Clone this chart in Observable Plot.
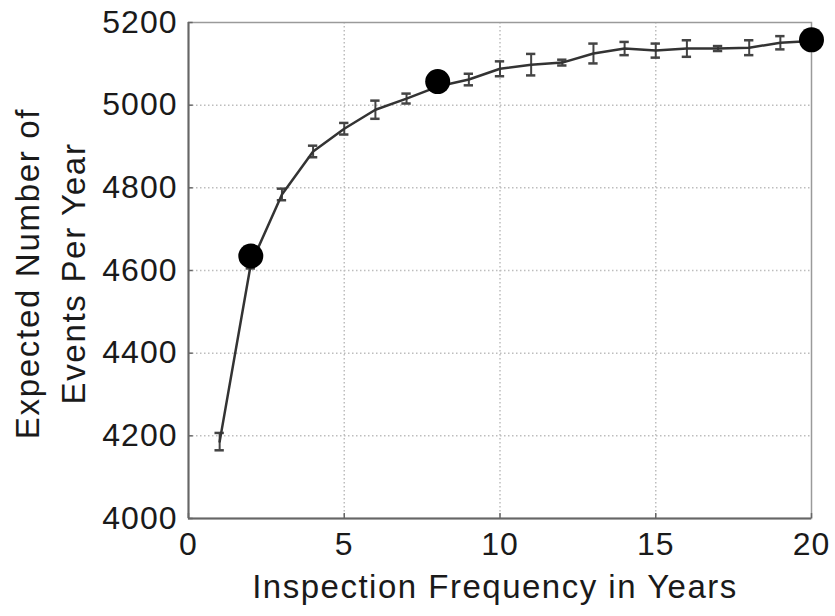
<!DOCTYPE html>
<html>
<head>
<meta charset="utf-8">
<script src="https://cdn.jsdelivr.net/npm/d3@7"></script>
<script src="https://cdn.jsdelivr.net/npm/@observablehq/plot@0.6"></script>
<style>
  html, body { margin: 0; padding: 0; background: #fff; }
  #chart svg text { letter-spacing: 1px; }
</style>
</head>
<body>
<div id="chart"></div>
<script>
// Inspection frequency (years)
const years = [1,2,3,4,5,6,7,8,9,10,11,12,13,14,15,16,17,18,19,20];
// Expected number of events per year (line values)
const events = [4186,4615,4784,4888,4943,4989,5016,5045,5062,5088,5098,5103,5125,5137,5132,5137,5137,5139,5151,5155];
// Error bar half-widths
const errors = [21,10,14,14,14,22,12,8,14,18,26,7,24,16,17,20,6,18,16,8];
// Highlighted points
const highlightYears = [2, 8, 20];
const highlightValues = [4635, 5057, 5158];

const xTicks = [0,5,10,15,20];
const yTicks = [4000,4200,4400,4600,4800,5000,5200];
const xLabel = "Inspection Frequency in Years";
const yLabel = "Expected Number of\nEvents Per Year";

const rows = years.map((x, i) => ({x, y: events[i], lo: events[i] - errors[i], hi: events[i] + errors[i]}));
const highlights = highlightYears.map((x, i) => ({x, y: highlightValues[i]}));
const capHalf = 0.15;

const fontSize = 32;
const plot = Plot.plot({
  width: 835,
  height: 616,
  marginLeft: 188,
  marginRight: 24,
  marginTop: 22,
  marginBottom: 98,
  style: {fontFamily: "'Liberation Sans', Arial, sans-serif", fontSize: fontSize + "px", color: "#1a1a1a", background: "#fff"},
  x: {domain: [0, 20]},
  y: {domain: [4000, 5200]},
  marks: [
    Plot.gridX(xTicks.slice(1, -1), {stroke: "#bdbdbd", strokeOpacity: 1, strokeWidth: 1.5, strokeDasharray: "1.5,2.5"}),
    Plot.gridY(yTicks.slice(1, -1), {stroke: "#bdbdbd", strokeOpacity: 1, strokeWidth: 1.5, strokeDasharray: "1.5,2.5"}),
    Plot.frame({stroke: "#9a9a9a", strokeWidth: 1.5}),
    Plot.ruleX([0], {stroke: "#666", strokeWidth: 2}),
    Plot.ruleY([4000], {stroke: "#666", strokeWidth: 2}),
    // small inward ticks
    Plot.ruleY(yTicks, {x1: 0, x2: 0.15, stroke: "#666", strokeWidth: 1.5}),
    Plot.ruleX(xTicks, {y1: 4000, y2: 4012, stroke: "#666", strokeWidth: 1.5}),
    Plot.axisX(xTicks, {tickSize: 0, tickPadding: 14, fontSize, label: null}),
    Plot.axisY(yTicks, {tickSize: 0, tickPadding: 11, fontSize, tickFormat: "d", label: null}),
    // error bars
    Plot.ruleX(rows, {x: "x", y1: "lo", y2: "hi", stroke: "#444", strokeWidth: 2}),
    Plot.ruleY(rows, {y: "lo", x1: d => d.x - capHalf, x2: d => d.x + capHalf, stroke: "#444", strokeWidth: 2.5}),
    Plot.ruleY(rows, {y: "hi", x1: d => d.x - capHalf, x2: d => d.x + capHalf, stroke: "#444", strokeWidth: 2.5}),
    Plot.line(rows, {x: "x", y: "y", stroke: "#333", strokeWidth: 2.5}),
    Plot.dot(highlights, {x: "x", y: "y", r: 12.5, fill: "#000", stroke: "none"}),
    Plot.text([xLabel], {frameAnchor: "bottom", text: d => d, textAnchor: "middle", dx: -5, dy: 56, lineAnchor: "top", fontSize: 33, fill: "#1a1a1a"}),
    Plot.text([yLabel], {frameAnchor: "left", text: d => d, rotate: -90, textAnchor: "middle", dx: -141, dy: 3, lineAnchor: "middle", lineHeight: 1.4, fontSize: 33, fill: "#1a1a1a"})
  ]
});
d3.select(plot).selectAll("text").filter(function() { return this.textContent.startsWith("Inspection"); }).style("letter-spacing", "1.5px");
d3.select(plot).selectAll("text").filter(function() { return this.textContent.startsWith("Expected"); }).style("letter-spacing", "1.7px");
document.getElementById("chart").appendChild(plot);
</script>
</body>
</html>
